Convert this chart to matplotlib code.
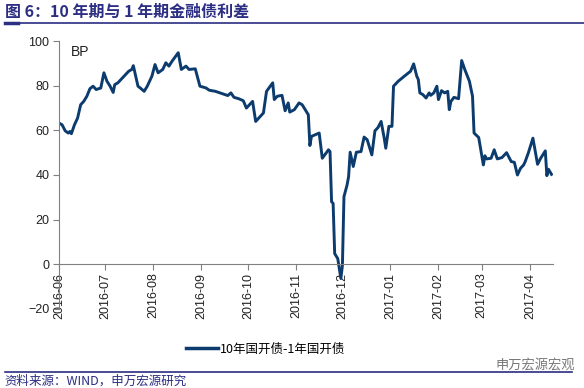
import matplotlib

matplotlib.use("Agg")

import matplotlib.pyplot as plt  # noqa: E402
import matplotlib.dates as mdates  # noqa: E402
import pandas as pd  # noqa: E402
from matplotlib.lines import Line2D  # noqa: E402

plt.rcParams["font.family"] = ["Liberation Sans", "Noto Sans CJK SC", "DejaVu Sans"]

# --- Datos ---
fechas = [
    "2016-06-01", "2016-06-03", "2016-06-05", "2016-06-07", "2016-06-08", "2016-06-09",
    "2016-06-11", "2016-06-13", "2016-06-15", "2016-06-17", "2016-06-19", "2016-06-21",
    "2016-06-23", "2016-06-25", "2016-06-28", "2016-06-30", "2016-07-02", "2016-07-04",
    "2016-07-06", "2016-07-07", "2016-07-09", "2016-07-12", "2016-07-16", "2016-07-18",
    "2016-07-19", "2016-07-22", "2016-07-24", "2016-07-26", "2016-07-28", "2016-07-31",
    "2016-08-02", "2016-08-04", "2016-08-07", "2016-08-09", "2016-08-11", "2016-08-13",
    "2016-08-17", "2016-08-19", "2016-08-22", "2016-08-24", "2016-08-28", "2016-08-31",
    "2016-09-04", "2016-09-06", "2016-09-10", "2016-09-15", "2016-09-18", "2016-09-20",
    "2016-09-22", "2016-09-25", "2016-09-28", "2016-09-30", "2016-10-02", "2016-10-04",
    "2016-10-06", "2016-10-08", "2016-10-11", "2016-10-13", "2016-10-17", "2016-10-18",
    "2016-10-20", "2016-10-23", "2016-10-25", "2016-10-27", "2016-10-28", "2016-10-31",
    "2016-11-03", "2016-11-05", "2016-11-09", "2016-11-10", "2016-11-11", "2016-11-16",
    "2016-11-18", "2016-11-22", "2016-11-23", "2016-11-24", "2016-11-25", "2016-11-26",
    "2016-11-28", "2016-11-30", "2016-12-01", "2016-12-02", "2016-12-04", "2016-12-05",
    "2016-12-06", "2016-12-08", "2016-12-10", "2016-12-13", "2016-12-15", "2016-12-17",
    "2016-12-20", "2016-12-22", "2016-12-24", "2016-12-26", "2016-12-28", "2016-12-29",
    "2016-12-31", "2017-01-02", "2017-01-03", "2017-01-06", "2017-01-10", "2017-01-14",
    "2017-01-16", "2017-01-18", "2017-01-19", "2017-01-20", "2017-01-22", "2017-01-24",
    "2017-01-26", "2017-01-27", "2017-01-29", "2017-01-31", "2017-02-01", "2017-02-03",
    "2017-02-05", "2017-02-07", "2017-02-08", "2017-02-09", "2017-02-11", "2017-02-14",
    "2017-02-16", "2017-02-18", "2017-02-21", "2017-02-23", "2017-02-24", "2017-02-27",
    "2017-03-02", "2017-03-03", "2017-03-04", "2017-03-07", "2017-03-09", "2017-03-11",
    "2017-03-14", "2017-03-17", "2017-03-20", "2017-03-22", "2017-03-24", "2017-03-26",
    "2017-03-28", "2017-03-29", "2017-03-31", "2017-04-03", "2017-04-06", "2017-04-08",
    "2017-04-11", "2017-04-12", "2017-04-13", "2017-04-15",
]
diferencial_bp = [
    63.3, 62.5, 59.8, 58.8, 59.5, 58.5,
    62.5, 65.5, 71.5, 73.0, 75.3, 78.7,
    79.8, 78.3, 79.0, 85.8, 82.0, 79.8,
    77.0, 80.5, 81.3, 83.5, 86.5, 87.3,
    89.0, 79.8, 78.7, 77.5, 79.8, 84.3,
    89.5, 85.8, 87.3, 90.3, 88.8, 91.0,
    94.8, 87.3, 88.8, 87.3, 87.6, 79.8,
    79.0, 78.0, 77.5, 76.3, 75.6, 76.8,
    74.8, 74.2, 73.3, 70.0, 71.5, 73.0,
    64.0, 65.5, 67.8, 77.5, 81.3, 73.8,
    75.3, 75.7, 68.8, 72.3, 68.2, 69.3,
    72.3, 71.5, 67.0, 53.2, 57.3, 58.8,
    47.5, 51.3, 50.5, 28.0, 27.3, 4.8,
    2.5, -6.4, -0.5, 30.3, 35.5, 39.3,
    50.2, 43.8, 50.2, 50.5, 57.0, 55.8,
    49.0, 59.8, 61.3, 64.0, 56.5, 52.0,
    61.8, 61.8, 79.8, 82.0, 84.3, 86.5,
    89.8, 84.3, 82.8, 76.8, 76.0, 74.5,
    76.8, 75.7, 76.8, 79.8, 73.8, 77.8,
    76.8, 77.5, 69.3, 72.9, 74.8, 74.2,
    91.3, 87.3, 82.0, 75.3, 58.8, 56.8,
    44.5, 48.6, 47.2, 47.5, 51.3, 47.2,
    47.8, 50.0, 46.0, 45.7, 40.0, 43.0,
    44.5, 46.0, 49.8, 56.5, 44.8, 47.5,
    50.8, 39.7, 42.6, 40.3,
]
etiqueta_serie = "10年国开债-1年国开债"
titulo = "图 6：10 年期与 1 年期金融债利差"
fuente = "资料来源：WIND，申万宏源研究"
marca_agua = "申万宏源宏观"

COLOR_LINEA = "#0C3B6E"
COLOR_TITULO = "#2B2E83"
COLOR_TEXTO = "#222222"
CJK = ["Noto Sans CJK SC", "DejaVu Sans"]

x = pd.to_datetime(fechas)

fig = plt.figure(figsize=(5.84, 3.88), dpi=100)
ax = fig.add_axes([0.101, 0.204, 0.846, 0.69])

ax.plot(x, diferencial_bp, color=COLOR_LINEA, lw=2.1, solid_joinstyle="round")

ax.set_ylim(-20, 100)
ax.set_yticks(range(-20, 101, 20))
ax.set_xlim(pd.Timestamp("2016-06-01"), pd.Timestamp("2017-04-16"))
ax.xaxis.set_major_locator(mdates.MonthLocator())
ax.xaxis.set_major_formatter(mdates.DateFormatter("%Y-%m"))

# Eje X en y=0, con etiquetas giradas justo debajo
ax.spines["bottom"].set_position(("data", 0))
for lado in ("top", "right"):
    ax.spines[lado].set_visible(False)
for lado in ("left", "bottom"):
    ax.spines[lado].set_color("#808080")
    ax.spines[lado].set_linewidth(0.8)

ax.tick_params(axis="x", direction="out", length=4, color="#808080",
               labelsize=9, labelcolor=COLOR_TEXTO, labelrotation=90, pad=2)
ax.tick_params(axis="y", direction="out", length=4, color="#808080",
               labelsize=9, labelcolor=COLOR_TEXTO, pad=3)
for lbl in ax.get_xticklabels():
    lbl.set_verticalalignment("top")

ax.text(0.025, 0.985, "BP", transform=ax.transAxes, fontsize=10,
        color=COLOR_TEXTO, va="top", ha="left")

# Leyenda centrada bajo el gráfico
muestra = Line2D([], [], color=COLOR_LINEA, lw=2.5)
fig.legend([muestra], [etiqueta_serie], loc="center", bbox_to_anchor=(0.455, 0.10),
           frameon=False, handlelength=2.6, handletextpad=0.15,
           prop={"family": CJK, "size": 9})

# Título y líneas de cabecera/pie
fig.text(0.008, 0.968, titulo, fontsize=11.5, fontweight="bold", color=COLOR_TITULO,
         va="center", ha="left", family=CJK)
fig.add_artist(Line2D([0.008, 1.0], [0.942, 0.942], transform=fig.transFigure,
                      color=COLOR_TITULO, lw=1.2))
fig.add_artist(Line2D([0.008, 0.03], [0.942, 0.942], transform=fig.transFigure,
                      color=COLOR_TITULO, lw=2.5))
fig.add_artist(Line2D([0.008, 0.98], [0.042, 0.042], transform=fig.transFigure,
                      color=COLOR_TITULO, lw=1.2))
fig.text(0.008, 0.018, fuente, fontsize=9, color=COLOR_TITULO,
         va="center", ha="left", family=CJK)
fig.text(0.985, 0.058, marca_agua, fontsize=9.5, color="#555555", alpha=0.8,
         va="center", ha="right", family=CJK)

fig.savefig("out.png", dpi=100)
plt.close(fig)
